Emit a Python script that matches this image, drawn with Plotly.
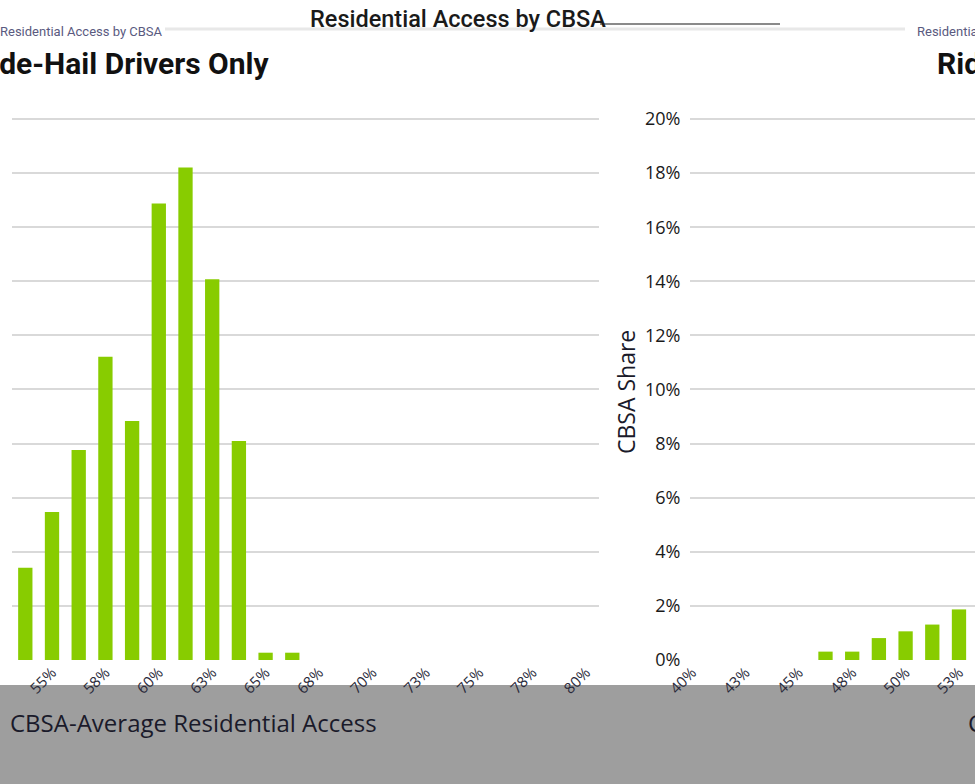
import plotly.graph_objects as go

# ---- data ----
left_cats = [53.75, 55, 56.25, 57.5, 58.75, 60, 61.25, 62.5, 63.75, 65, 66.25,
             67.5, 68.75, 70, 71.25, 72.5, 73.75, 75, 76.25, 77.5, 78.75, 80]
left_vals = [3.41, 5.47, 7.76, 11.21, 8.84, 16.88, 18.21, 14.08, 8.10, 0.27, 0.27,
             0, 0, 0, 0, 0, 0, 0, 0, 0, 0, 0]
left_tickvals = [55, 57.5, 60, 62.5, 65, 67.5, 70, 72.5, 75, 77.5, 80]
left_ticktext = ["55%", "58%", "60%", "63%", "65%", "68%", "70%", "73%", "75%", "78%", "80%"]

right_cats = [40, 41.25, 42.5, 43.75, 45, 46.25, 47.5, 48.75, 50, 51.25, 52.5]
right_vals = [0, 0, 0, 0, 0, 0.31, 0.31, 0.81, 1.06, 1.31, 1.87]
right_tickvals = [40, 42.5, 45, 47.5, 50, 52.5]
right_ticktext = ["40%", "43%", "45%", "48%", "50%", "53%"]

y_tickvals = [0, 2, 4, 6, 8, 10, 12, 14, 16, 18, 20]
y_ticktext = ["0%", "2%", "4%", "6%", "8%", "10%", "12%", "14%", "16%", "18%", "20%"]

main_title = "Residential Access by CBSA"
left_title = "Ride-Hail Drivers Only"
right_title = "Ride-Hail Riders Only"
x_title = "CBSA-Average Residential Access"
y_title = "CBSA Share"

W, H = 975, 784
def px(x):
    return x / W
def py(y):
    return 1 - y / H

GREEN = "#88CC00"
GRID = "#d9d9d9"
HEAD = "Roboto, Open Sans, sans-serif"
BODY = "Open Sans, Noto Sans, sans-serif"

fig = go.Figure()
fig.add_trace(go.Bar(x=left_cats, y=left_vals, marker_color=GREEN, marker_line_width=0,
                     width=0.67, xaxis="x", yaxis="y", showlegend=False))
fig.add_trace(go.Bar(x=right_cats, y=right_vals, marker_color=GREEN, marker_line_width=0,
                     width=0.67, xaxis="x2", yaxis="y2", showlegend=False))

YMAX = 20.08
ydom = [py(660), py(119 - 0.08 * 27.05)]
common_x = dict(type="linear", tickangle=-45, showgrid=False, zeroline=False,
                showline=False, ticks="", tickfont=dict(family=BODY, size=15, color="#2a2a3a"),
                automargin=False)
fig.update_layout(
    width=W, height=H,
    margin=dict(l=0, r=0, t=0, b=0),
    paper_bgcolor="white", plot_bgcolor="white",
    xaxis=dict(domain=[px(12), px(599)], range=[53.127, 80.61],
               tickvals=left_tickvals, ticktext=left_ticktext, **common_x),
    yaxis=dict(domain=ydom, range=[0, YMAX], tickvals=y_tickvals, showticklabels=False,
               showgrid=True, gridcolor=GRID, gridwidth=2, zeroline=False, automargin=False),
    xaxis2=dict(domain=[px(690), 1], range=[39.906, 53.25], anchor="y2",
                tickvals=right_tickvals, ticktext=right_ticktext, **common_x),
    yaxis2=dict(domain=ydom, range=[0, YMAX], anchor="x2", tickvals=y_tickvals,
                ticktext=y_ticktext, showticklabels=True, ticks="outside", ticklen=5,
                tickcolor="rgba(0,0,0,0)",
                tickfont=dict(family=BODY, size=18, color="#1a1a1a"),
                showgrid=True, gridcolor=GRID, gridwidth=2, zeroline=False, automargin=False),
)

shapes = [
    dict(type="rect", xref="paper", yref="paper", x0=0, x1=1, y0=0, y1=py(685),
         fillcolor="#9e9e9e", line=dict(width=0), layer="below"),
    dict(type="line", xref="paper", yref="paper", x0=px(165), x1=px(905), y0=py(29), y1=py(29),
         line=dict(color="#e8e8e8", width=3), layer="below"),
    dict(type="line", xref="paper", yref="paper", x0=px(600), x1=px(780), y0=py(24), y1=py(24),
         line=dict(color="#8a8a8a", width=2), layer="below"),
]
fig.update_layout(shapes=shapes)

ann = [
    dict(text=main_title, x=px(308), y=py(19), xanchor="left", yanchor="middle",
         font=dict(family=HEAD, size=23.5, color="#1a1a1a", weight=500), showarrow=False,
         xref="paper", yref="paper"),
    dict(text=main_title, x=px(165), y=py(31), xanchor="right", yanchor="middle",
         font=dict(family=HEAD, size=13, color="#5a5a80"), showarrow=False,
         xref="paper", yref="paper"),
    dict(text=main_title, x=px(915), y=py(31), xanchor="left", yanchor="middle",
         font=dict(family=HEAD, size=13, color="#5a5a80"), showarrow=False,
         xref="paper", yref="paper"),
    dict(text="<b>" + left_title + "</b>", x=px(272), y=py(63), xanchor="right", yanchor="middle",
         font=dict(family=HEAD, size=30, color="#111"), showarrow=False,
         xref="paper", yref="paper"),
    dict(text="<b>" + right_title + "</b>", x=px(935), y=py(63), xanchor="left", yanchor="middle",
         font=dict(family=HEAD, size=30, color="#111"), showarrow=False,
         xref="paper", yref="paper"),
    dict(text=x_title, x=px(8), y=py(722), xanchor="left", yanchor="middle",
         font=dict(family=BODY, size=24, color="#1a1a2a"), showarrow=False,
         xref="paper", yref="paper"),
    dict(text=x_title, x=px(966), y=py(722), xanchor="left", yanchor="middle",
         font=dict(family=BODY, size=24, color="#1a1a2a"), showarrow=False,
         xref="paper", yref="paper"),
    dict(text=y_title, x=px(626), y=py(392), xanchor="center", yanchor="middle", textangle=-90,
         font=dict(family=BODY, size=23, color="#1a1a2a"), showarrow=False,
         xref="paper", yref="paper"),
]
fig.update_layout(annotations=ann)

fig.write_html("out.html", config={"displayModeBar": False},
               post_script="document.body.style.margin='0px';document.body.style.overflow='hidden';")
